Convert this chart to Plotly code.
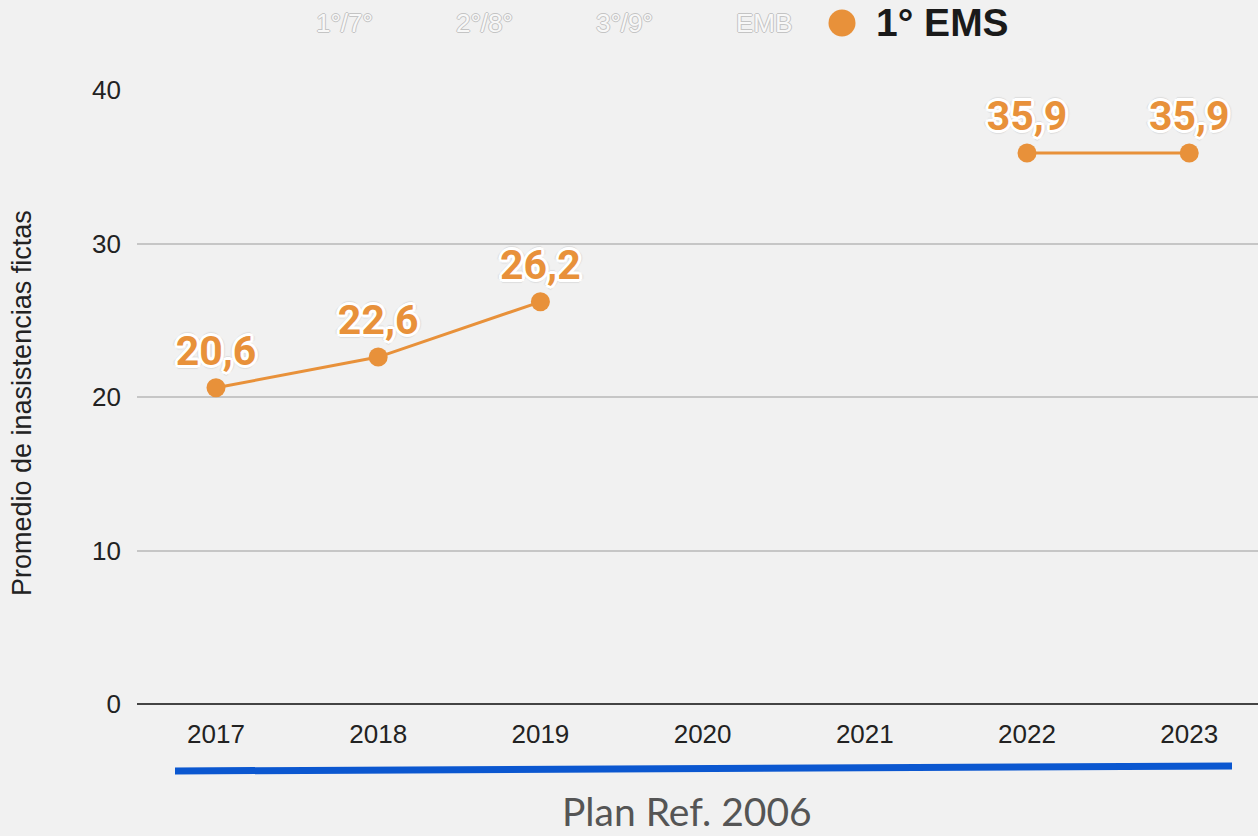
import plotly.graph_objects as go

years = ["2017", "2018", "2019", "2020", "2021", "2022", "2023"]
ems1 = [20.6, 22.6, 26.2, None, None, 35.9, 35.9]
legend_faded = ["1°/7°", "2°/8°", "3°/9°", "EMB"]
legend_active = "1° EMS"
y_ticks = [0, 10, 20, 30, 40]
footer_text = "Plan Ref. 2006"
y_title = "Promedio de inasistencias fictas"

ORANGE = "#E8913A"
BG = "#F1F1F1"

labels = [("" if v is None else f"{v:.1f}".replace(".", ",")) for v in ems1]

outline = ", ".join(f"{dx}px {dy}px 0 #fff" for dx, dy in
                     [(2, 0), (-2, 0), (0, 2), (0, -2), (2, 2), (-2, -2), (2, -2), (-2, 2),
                      (3, 0), (-3, 0), (0, 3), (0, -3)]) + \
          ", 4px 0 1px #ddd, -4px 0 1px #ddd, 0 4px 1px #ddd, 0 -4px 1px #ddd"

fig = go.Figure()
fig.add_trace(go.Scatter(
    x=years, y=ems1, mode="lines+markers+text",
    text=labels, textposition="top center",
    textfont=dict(family="Roboto", size=41, color=ORANGE, weight="bold", shadow=outline),
    line=dict(color=ORANGE, width=3),
    marker=dict(color=ORANGE, size=19),
    connectgaps=False, cliponaxis=False, showlegend=False, hoverinfo="skip",
))

fig.update_layout(
    width=1258, height=836,
    paper_bgcolor=BG, plot_bgcolor=BG,
    margin=dict(l=137, r=0, t=90, b=132),
    font=dict(family="Liberation Sans, Arial", color="#222"),
    xaxis=dict(
        type="category", range=[-0.487, 6.424], showgrid=False,
        tickfont=dict(size=26, color="#222"), ticklabelstandoff=12,
        showline=False, zeroline=False,
    ),
    yaxis=dict(
        range=[0, 40], tickvals=y_ticks, showgrid=True, gridcolor="#C6C6C6", gridwidth=2,
        zeroline=True, zerolinecolor="#444", zerolinewidth=2,
        tickfont=dict(size=26, color="#222"), ticklabelstandoff=15,
        showline=False,
    ),
)

# y axis title
fig.add_annotation(text=y_title, textangle=-90, xref="paper", yref="paper",
                   x=(22 - 137) / 1121, y=(704 - 403) / 614, xanchor="center", yanchor="middle",
                   showarrow=False,
                   font=dict(family="Liberation Sans, Arial", size=27, color="#222"))

# legend (faded items)
faded_x = [344, 484, 624, 764]
for name, px in zip(legend_faded, faded_x):
    fig.add_annotation(text=name, xref="paper", yref="paper",
                       x=(px - 137) / 1121, y=(704 - 23) / 614,
                       xanchor="center", yanchor="middle", showarrow=False,
                       font=dict(family="Liberation Sans, Arial", size=26, color="#F8F8F8",
                                 shadow="1px 0 0 #c4c4c4, -1px 0 0 #c4c4c4, 0 1px 0 #c4c4c4, 0 -1px 0 #c4c4c4"))
# active legend item
fig.add_shape(type="circle", xref="paper", yref="paper", xsizemode="pixel", ysizemode="pixel",
              xanchor=(842 - 137) / 1121, yanchor=(704 - 23) / 614,
              x0=-13.5, x1=13.5, y0=-13.5, y1=13.5,
              fillcolor=ORANGE, line=dict(width=0))
fig.add_annotation(text=legend_active, xref="paper", yref="paper",
                   x=(874 - 137) / 1121, y=(704 - 23) / 614,
                   xanchor="left", yanchor="middle", showarrow=False,
                   font=dict(family="Liberation Sans, Arial", size=39, color="#1A1A1A", weight="bold"))

# footer blue line and caption
fig.add_shape(type="line", xref="paper", yref="paper",
              x0=(175 - 137) / 1121, y0=-(771 - 704) / 614,
              x1=(1232 - 137) / 1121, y1=-(766 - 704) / 614,
              line=dict(color="#0B57D0", width=7))
fig.add_annotation(text=footer_text, xref="paper", yref="paper",
                   x=(687 - 137) / 1121, y=-(811 - 704) / 614,
                   xanchor="center", yanchor="middle", showarrow=False,
                   font=dict(family="Lato", size=39, color="#555"))

fig.write_html("out.html", config={"displayModeBar": False},
               post_script="document.body.style.margin='0';document.body.style.background='#F1F1F1';")
